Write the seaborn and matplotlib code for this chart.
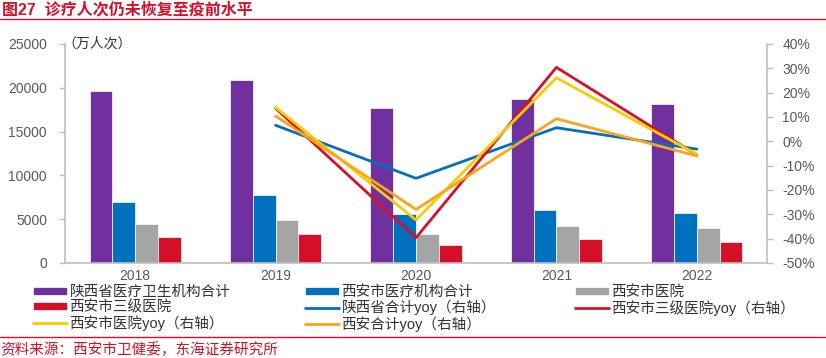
import numpy as np
import pandas as pd
import seaborn as sns
import matplotlib.pyplot as plt
from matplotlib.lines import Line2D
from matplotlib.ticker import PercentFormatter

# 数据（万人次）
years = ['2018', '2019', '2020', '2021', '2022']
bar_names = ['陕西省医疗卫生机构合计', '西安市医疗机构合计', '西安市医院', '西安市三级医院']
sx_total = [19600, 20850, 17650, 18700, 18100]
xa_inst = [7000, 7750, 5550, 6050, 5700]
xa_hosp = [4400, 4900, 3350, 4200, 3950]
xa_tier3 = [2950, 3300, 2000, 2700, 2450]

# 同比（%）
line_years = ['2019', '2020', '2021', '2022']
line_names = ['陕西省合计yoy（右轴）', '西安市三级医院yoy（右轴）', '西安市医院yoy（右轴）', '西安合计yoy（右轴）']
sx_yoy = [6.6, -15.2, 5.6, -3.2]
tier3_yoy = [13.6, -39.6, 30.4, -5.6]
hosp_yoy = [13.9, -32.3, 26.1, -5.3]
xa_yoy = [10.4, -28.0, 9.3, -6.0]

bar_colors = ['#7030A0', '#0070C0', '#A5A5A5', '#D7102A']
line_colors = ['#0070C0', '#D7102A', '#F5CE00', '#FFA21A']
red = '#D7102A'
gray_txt = '#595959'
spine_c = '#BFBFBF'

sns.set_style('white')
plt.rcParams['font.family'] = ['Liberation Sans', 'Noto Sans CJK SC']
plt.rcParams['axes.unicode_minus'] = False

df = pd.DataFrame({
    'year': years * 4,
    'name': [n for n in bar_names for _ in years],
    'value': sx_total + xa_inst + xa_hosp + xa_tier3,
})

fig = plt.figure(figsize=(8.26, 3.58), dpi=100)
ax = fig.add_axes([0.0787, 0.2654, 0.8499, 0.6117])

sns.barplot(data=df, x='year', y='value', hue='name', hue_order=bar_names,
            palette=bar_colors, width=0.65, saturation=1, errorbar=None,
            edgecolor='white', linewidth=0.5, ax=ax)

ax2 = ax.twinx()
line_x = [years.index(y) for y in line_years]
for vals, name, c in zip([sx_yoy, tier3_yoy, hosp_yoy, xa_yoy], line_names, line_colors):
    sns.lineplot(x=line_x, y=vals, color=c, lw=2, label=name, ax=ax2)

# 轴
ax.set_xlim(-0.5, 4.5)
ax.set_ylim(0, 25000)
ax.set_yticks(range(0, 25001, 5000))
ax2.set_ylim(-50, 40)
ax2.set_yticks(range(-50, 41, 10))
ax2.yaxis.set_major_formatter(PercentFormatter(100, decimals=0))
ax.set_xlabel('')
ax.set_ylabel('')
ax2.set_ylabel('')

ax.set_xticks(range(len(years)))
ax.set_xticklabels(years)
ax.set_xticks(np.arange(-0.5, len(years), 1), minor=True)
ax.tick_params(axis='x', which='major', length=0, pad=4, labelsize=10, labelcolor=gray_txt)
ax.tick_params(axis='x', which='minor', length=4, width=1, color=spine_c)
ax.tick_params(axis='y', length=4, width=1, color=spine_c, pad=9, labelsize=10, labelcolor=gray_txt, left=True)
ax2.tick_params(axis='y', length=4, width=1, color=spine_c, pad=7, labelsize=10, labelcolor=gray_txt, right=True)

for s in ['top', 'right']:
    ax.spines[s].set_visible(False)
for s in ['top', 'left', 'bottom']:
    ax2.spines[s].set_visible(False)
for sp in [ax.spines['left'], ax.spines['bottom'], ax2.spines['right']]:
    sp.set_color(spine_c)
    sp.set_linewidth(1.2)

# 图例
h1, l1 = ax.get_legend_handles_labels()
h2, l2 = ax2.get_legend_handles_labels()
ax.get_legend().remove()
ax2.get_legend().remove()
hs = h1 + h2
ls = l1 + l2
cols = [[0, 3, 6], [1, 4, 7], [2, 5]]
col_x = [33, 305, 575]
for idx, cx in zip(cols, col_x):
    fig.legend([hs[i] for i in idx], [ls[i] for i in idx], loc='upper left',
               bbox_to_anchor=(cx / 826, 1 - 285 / 358), frameon=False,
               fontsize=10.5, handlelength=2.3, handleheight=0.5,
               handletextpad=0.2, labelspacing=0.05, borderpad=0,
               borderaxespad=0, labelcolor='#333333')

# 文字
fig.text(0.002, 1 - 10 / 358, '图27  诊疗人次仍未恢复至疫前水平', color=red,
         fontsize=11.5, fontweight='bold', va='center', ha='left')
fig.add_artist(Line2D([0, 1], [1 - 19 / 358] * 2, transform=fig.transFigure, color=red, lw=1))
fig.add_artist(Line2D([0, 1], [1 - 337 / 358] * 2, transform=fig.transFigure, color=red, lw=1))
fig.text(0.0, 1 - 350 / 358, '资料来源：西安市卫健委，东海证券研究所', color=red,
         fontsize=10.5, va='center', ha='left')
fig.text(62 / 826, 1 - 44 / 358, '（万人次）', color='#333333', fontsize=10, va='center', ha='left')

fig.savefig('out.png', dpi=100)
